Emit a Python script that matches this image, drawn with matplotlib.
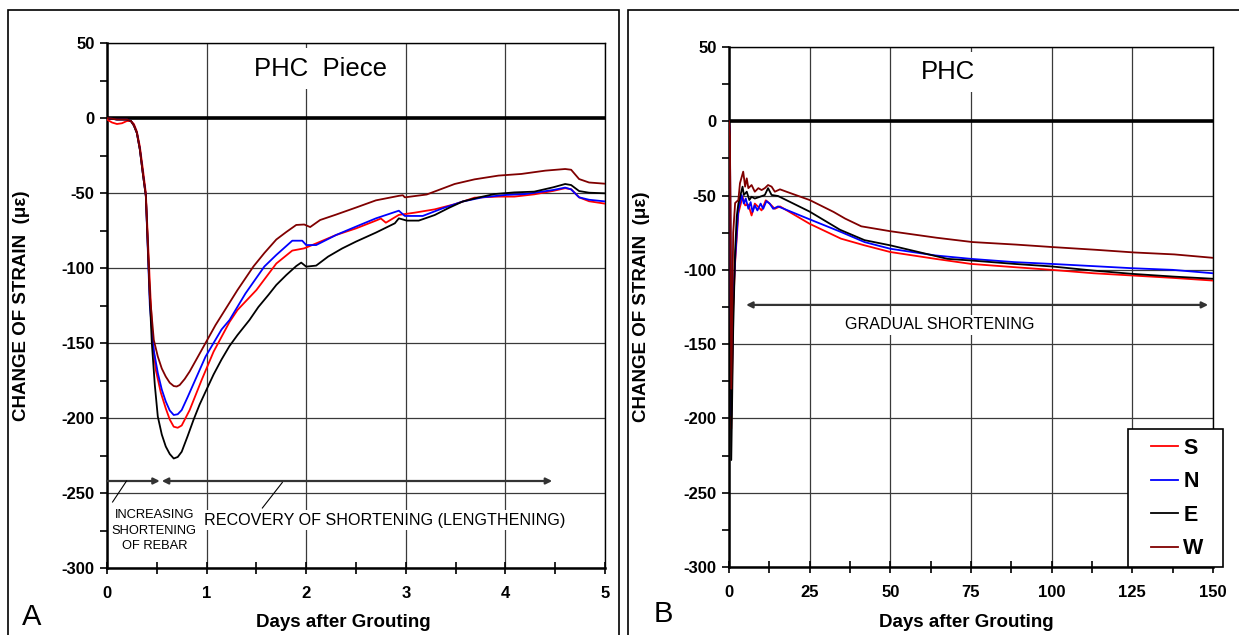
import matplotlib
matplotlib.use('Agg')
import matplotlib.pyplot as plt
from matplotlib.patches import Rectangle
from matplotlib.ticker import MultipleLocator

plt.rcParams['font.family'] = ['Liberation Sans', 'DejaVu Sans']
plt.rcParams['axes.unicode_minus'] = False
NARROW = ['Liberation Sans Narrow', 'Liberation Sans', 'DejaVu Sans']

# ---- A: PHC piece, first 5 days (days, strain in micro-strain) ----
a_s_days = [0, 0.05, 0.1, 0.15, 0.2, 0.24, 0.27, 0.3, 0.33, 0.36, 0.39, 0.43, 0.46, 0.49, 0.54,
            0.59, 0.63, 0.67, 0.71, 0.75, 0.83, 0.95, 1.07, 1.23, 1.31, 1.5, 1.70, 1.86, 1.98, 2.10,
            2.30, 2.50, 2.70, 2.75, 2.80, 2.93, 3.09, 3.29, 3.49, 3.69, 3.93, 4.09, 4.29, 4.48, 4.60,
            4.66, 4.74, 4.84, 5.0]
a_s_vals = [-1, -3, -4, -3.5, -2, -2, -4, -9, -19, -34, -50, -110, -150, -168, -183,
            -193.6, -201, -205.8, -206.5, -205, -194.7, -174.7, -155.8, -136, -128, -114.7, -97, -88.4, -86.9, -83.6,
            -78, -73.6, -68.4, -67, -69.8, -64.6, -63.1, -60.9, -57.5, -53.1, -52.4, -52.4, -50.9, -48.6, -46.8,
            -47.5, -52.9, -55.5, -57.1]

a_n_days = [0, 0.1, 0.2, 0.24, 0.27, 0.3, 0.33, 0.36, 0.39, 0.43, 0.47, 0.51, 0.55, 0.59, 0.63,
            0.67, 0.71, 0.75, 0.81, 0.87, 0.99, 1.15, 1.23, 1.39, 1.58, 1.70, 1.86, 1.96, 2.0, 2.10,
            2.30, 2.50, 2.70, 2.93, 2.99, 3.17, 3.37, 3.57, 3.77, 4.0, 4.2, 4.48, 4.60, 4.66, 4.74,
            4.84, 5.0]
a_n_vals = [0, -1, -1, -2, -5, -10, -21, -37, -52, -125, -155, -170, -181, -189, -195,
            -198, -197.5, -194.7, -186, -177, -159, -141, -134.7, -117, -99, -91.3, -81.8, -81.8, -84.7, -84.7,
            -78, -72.4, -66.9, -61.8, -65.3, -65.3, -60.2, -55.7, -52.9, -51.3, -50.7, -48, -46.4, -47.6, -52.9,
            -54.5, -55.6]

a_e_days = [0, 0.1, 0.2, 0.24, 0.27, 0.3, 0.33, 0.36, 0.39, 0.43, 0.45, 0.48, 0.51, 0.55, 0.59,
            0.63, 0.67, 0.71, 0.75, 0.81, 0.87, 0.93, 0.99, 1.07, 1.15, 1.23, 1.31, 1.43, 1.52, 1.62,
            1.70, 1.80, 1.90, 1.95, 2.0, 2.10, 2.22, 2.36, 2.50, 2.70, 2.89, 2.93, 3.01, 3.13, 3.29,
            3.43, 3.57, 3.73, 3.89, 4.09, 4.29, 4.48, 4.60, 4.66, 4.74, 4.84, 5.0]
a_e_vals = [0, -1, -1, -2, -5, -10, -21, -37, -52, -120, -150, -178, -199, -211, -219,
            -224, -227, -226, -222.5, -212, -201, -191, -182.4, -171, -161, -152, -144.7, -134.7, -126, -118,
            -111.3, -104.7, -98.7, -96.4, -99.1, -98.4, -92.4, -87, -82.4, -76.4, -70.2, -66.9, -68.4, -68.4, -64.7,
            -60, -55.7, -53, -50.7, -49.6, -49.1, -46.2, -44, -44.7, -48.7, -49.8, -50.2]

a_w_days = [0, 0.1, 0.2, 0.24, 0.27, 0.3, 0.33, 0.36, 0.39, 0.43, 0.47, 0.51, 0.55, 0.59, 0.63,
            0.67, 0.70, 0.73, 0.78, 0.83, 0.95, 1.09, 1.31, 1.47, 1.58, 1.70, 1.80, 1.90, 1.98, 2.04,
            2.14, 2.30, 2.50, 2.70, 2.93, 2.97, 2.99, 3.21, 3.49, 3.69, 3.93, 4.16, 4.40, 4.60, 4.66,
            4.74, 4.84, 5.0]
a_w_vals = [0, -1, -1, -2, -5, -10, -21, -37, -52, -118, -148, -159, -167, -172.4, -176.5,
            -178.7, -179, -178, -174, -169, -154.7, -138, -114.7, -99, -90, -81, -76, -71.3, -71, -72.7,
            -68, -64.4, -59.7, -54.9, -51.9, -51.5, -52.9, -51, -44, -40.9, -38.4, -37.3, -35.1, -34, -34.5,
            -40.7, -43, -43.8]

# ---- B: PHC, 150 days ----
b_s_days = [0, 0.3, 0.7, 1.3, 1.9, 2.9, 4.2, 5.0, 6.0, 7.0, 8.0, 9.1, 10.1, 11.4, 12.6,
            14.2, 15.8, 25, 34.7, 42, 50, 64, 75, 88.5, 100, 113, 125, 137.5, 150]
b_s_vals = [0, -10, -207, -125, -95, -62, -50.8, -56.6, -56, -63.4, -55.4, -57.7, -60, -53.2, -55.4,
            -58.9, -57.3, -69, -79, -83.5, -88, -92.6, -96, -98.2, -100, -102.3, -103.8, -105.4, -107.2]

b_n_days = [0, 0.3, 0.7, 1.3, 1.9, 2.6, 2.9, 3.9, 4.6, 5.2, 6.0, 6.7, 7.3, 8.0, 8.8,
            9.8, 10.6, 11.6, 12.6, 13.7, 15.2, 25, 34.7, 42, 50, 64, 75, 88.5, 100, 113,
            125, 137.5, 150]
b_n_vals = [0, -10, -198, -120, -93, -68.7, -60, -49.6, -55.4, -52, -58.9, -54.4, -61, -56.6, -60,
            -55.4, -58.9, -53.7, -55.4, -58.9, -57.3, -66, -74.5, -81.3, -85.8, -90.3, -92.6, -94.8, -96, -97.5,
            -98.9, -100, -102.3]

b_e_days = [0, 0.3, 0.7, 1.3, 1.9, 2.4, 2.9, 4.2, 4.6, 5.5, 6.3, 7.0, 8.0, 9.6, 11.1,
            12.1, 13.2, 15.2, 25, 34.4, 42, 50, 67.7, 75, 88.5, 100, 113, 125, 137.5, 150]
b_e_vals = [0, -10, -228, -140, -87, -64, -55.5, -44, -49.6, -47.4, -53, -50.8, -52, -50.8, -49.6,
            -45, -49.6, -50.3, -60.8, -73, -80, -83.5, -92.6, -93.7, -96, -97.7, -100.5, -102.7, -104.5, -106]

b_w_days = [0, 0.3, 0.7, 1.3, 1.9, 2.9, 3.4, 4.4, 5.0, 5.5, 6.0, 7.0, 8.0, 9.1, 10.1,
            11.1, 12.1, 13.2, 14.2, 15.8, 17.8, 25, 32.4, 36, 41, 50, 64.4, 75.5, 89, 100.5,
            113.7, 125.6, 138, 150]
b_w_vals = [0, -10, -180, -75, -55, -53, -41.7, -33.9, -44, -38.4, -45, -42.9, -47.4, -45, -46.3,
            -45, -42.9, -44, -47.4, -45.8, -47.4, -53, -61, -65.5, -70.7, -74, -78.4, -81.3, -83, -84.7,
            -86.5, -88.3, -89.6, -91.9]

labels = ['S', 'N', 'E', 'W']
colors = ['#ff0000', '#0000ff', '#000000', '#800000']

W, H = 1239, 635
fig = plt.figure(figsize=(W / 100, H / 100), dpi=100)


def fig_box(x0, y0, x1, y1, **kw):
    # rectangle given in pixel corners (top-left origin)
    return Rectangle((x0 / W, 1 - y1 / H), (x1 - x0) / W, (y1 - y0) / H,
                     transform=fig.transFigure, **kw)


# panel frames
fig.patches.append(fig_box(8, 9.5, 619, 650, fill=False, edgecolor='black', lw=1.2))
fig.patches.append(fig_box(628, 9.5, 1260, 650, fill=False, edgecolor='black', lw=1.2))

axA = fig.add_axes([107 / W, 1 - 568 / H, 498 / W, 525 / H])
axB = fig.add_axes([729 / W, 1 - 567 / H, 484 / W, 520 / H])


def style_axes(ax, xmax, xmajor, xminor):
    ax.set_xlim(0, xmax)
    ax.set_ylim(-300, 50)
    ax.xaxis.set_major_locator(MultipleLocator(xmajor))
    ax.xaxis.set_minor_locator(MultipleLocator(xminor))
    ax.yaxis.set_major_locator(MultipleLocator(50))
    ax.yaxis.set_minor_locator(MultipleLocator(25))
    ax.grid(True, which='major', color='#3a3a3a', lw=0.9)
    ax.set_axisbelow(True)
    ax.axhline(0, color='black', lw=2.6, zorder=3)
    for side in ['left', 'bottom']:
        ax.spines[side].set_linewidth(1.8)
    for side in ['top', 'right']:
        ax.spines[side].set_linewidth(1.0)
    ax.tick_params(axis='y', which='both', direction='out', length=5, width=1.2, pad=4,
                   labelsize=12)
    ax.tick_params(axis='x', which='both', direction='inout', length=8, width=1.2, pad=9,
                   labelsize=12)
    for lab in ax.get_xticklabels() + ax.get_yticklabels():
        lab.set_fontweight('bold')
    ax.set_xlabel('Days after Grouting', fontsize=13.5, fontweight='bold')
    ax.set_ylabel('CHANGE OF STRAIN  (\u03bc\u03b5)', fontsize=13.5, fontweight='bold')


style_axes(axA, 5, 1, 0.5)
style_axes(axB, 150, 25, 12.5)
axA.xaxis.set_label_coords(0.474, -0.087)
axB.xaxis.set_label_coords(0.49, -0.09)
axA.yaxis.set_label_coords(-0.155, 0.5)
axB.yaxis.set_label_coords(-0.163, 0.5)

series_a = [(a_s_days, a_s_vals), (a_n_days, a_n_vals), (a_e_days, a_e_vals), (a_w_days, a_w_vals)]
series_b = [(b_s_days, b_s_vals), (b_n_days, b_n_vals), (b_e_days, b_e_vals), (b_w_days, b_w_vals)]

for (d, v), c in zip(series_a, colors):
    axA.plot(d, v, color=c, lw=1.3, zorder=4)
handles = []
for (d, v), c, lab in zip(series_b, colors, labels):
    h, = axB.plot(d, v, color=c, lw=1.3, zorder=4, label=lab)
    handles.append(h)

box = dict(facecolor='white', edgecolor='none', pad=2)

# A annotations
arrow_kw = dict(color='#333333', lw=1.6, shrinkA=0, shrinkB=0, mutation_scale=9)
axA.annotate('', xy=(0.53, -242), xytext=(0, -242), arrowprops=dict(arrowstyle='-|>', **arrow_kw))
axA.annotate('', xy=(0.55, -242), xytext=(4.47, -242), arrowprops=dict(arrowstyle='<|-|>', **arrow_kw))
axA.plot([0.196, 0.056], [-242, -256], color='black', lw=0.8, zorder=5)
axA.plot([1.76, 1.56], [-243, -260], color='black', lw=0.8, zorder=5)
axA.text(0.475, -275, 'INCREASING\nSHORTENING\nOF REBAR', family=NARROW, fontsize=9.3,
         ha='center', va='center', linespacing=1.35,
         bbox=dict(facecolor='white', edgecolor='none', pad=0.5), zorder=4)
axA.text(2.79, -268, 'RECOVERY OF SHORTENING (LENGTHENING)', family=NARROW, fontsize=11.6,
         ha='center', va='center', bbox=box, zorder=4)
axA.text(2.14, 33, 'PHC  Piece', family=NARROW, fontsize=18.5, ha='center', va='center',
         bbox=dict(facecolor='white', edgecolor='none', pad=6), zorder=4)

# B annotations
axB.annotate('', xy=(5.3, -123.6), xytext=(148.5, -123.6), arrowprops=dict(arrowstyle='<|-|>', **arrow_kw))
axB.text(65.4, -137, 'GRADUAL SHORTENING', family=NARROW, fontsize=11.6, ha='center', va='center',
         bbox=box, zorder=4)
axB.text(68, 33, 'PHC', family=NARROW, fontsize=18.5, ha='center', va='center',
         bbox=dict(facecolor='white', edgecolor='none', pad=6), zorder=4)

# legend box drawn over the right edge of panel B
fig.patches.append(fig_box(1128, 429, 1223, 567, facecolor='white', edgecolor='black', lw=1.2, zorder=5))
leg = fig.legend(handles=handles, loc='upper left', bbox_to_anchor=(1151 / W, 1 - 438 / H),
                 bbox_transform=fig.transFigure, frameon=False, borderpad=0, borderaxespad=0,
                 handlelength=1.25, handletextpad=0.25, labelspacing=0.58,
                 prop={'weight': 'bold', 'size': 15.5})
leg.set_zorder(6)

fig.text(22 / W, 1 - 625 / H, 'A', family=NARROW, fontsize=21, va='baseline')
fig.text(654 / W, 1 - 622 / H, 'B', family=NARROW, fontsize=21, va='baseline')

fig.savefig('out.png', dpi=100)
